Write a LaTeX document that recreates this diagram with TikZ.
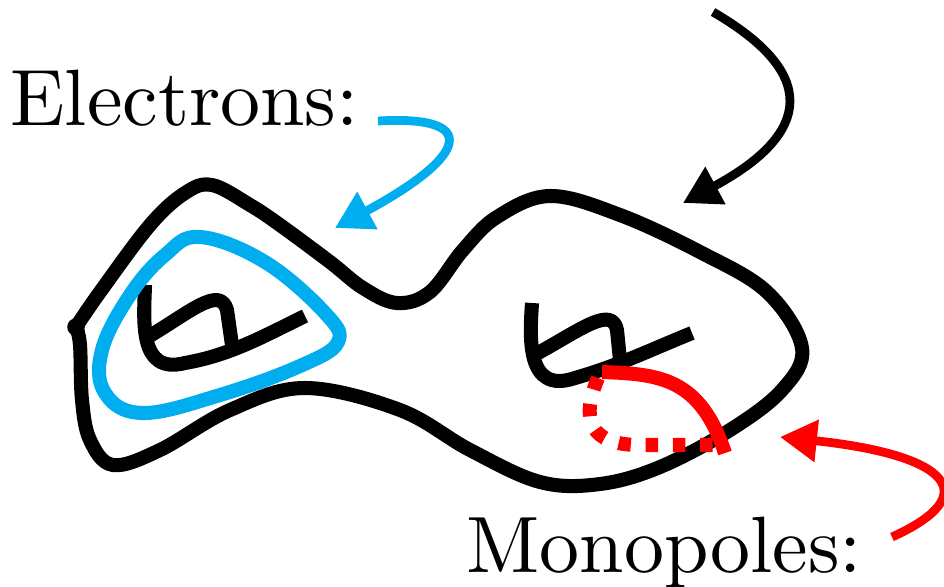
\documentclass[tikz,border=0pt]{standalone}
\usepackage{fontspec}
\usepackage{tikz}
\usetikzlibrary{arrows.meta, positioning, calc}
\newfontfamily\lblfont{lmroman10-regular}[Extension=.otf]
\definecolor{elecc}{RGB}{0,174,239}
\definecolor{monoc}{RGB}{255,0,0}
\tikzset{
  surf/.style={line width=8pt, line join=round, line cap=round},
  hole/.style={line width=8pt, line join=round},
  ptr/.style={line width=5pt, -{Triangle[length=21pt, width=23pt]}},
  lbl/.style={anchor=base west, inner sep=0pt, font=\lblfont\fontsize{45.5}{54}\selectfont},
}

\begin{document}
\begin{tikzpicture}[x={(0.02cm,0)}, y={(0,-0.02cm)}]
  \useasboundingbox (0,0) rectangle (944,586);
  % genus-two surface
  \draw[surf] plot[smooth, tension=0.6] coordinates {(76,327) (100,292) (150,225)
    (185,193) (212,185) (250,205) (280,225) (330,262) (363,288) (397,303) (430,292)
    (463,250) (497,217) (550,196) (620,215) (700,252) (767,292) (802,348) (782,390)
    (730,430) (660,467) (600,484) (540,482) (470,450) (400,410) (305,388) (230,410)
    (160,450) (113,465) (90,440) (82,400) (80,345) (76,327)};
  \fill (76,327) circle[radius=5pt];
  % handles
  \draw[hole] (145,285) .. controls (144,320) and (138,375) .. (185,363)
    .. controls (230,355) and (260,338) .. (305,316);
  \draw[hole] (148,337) .. controls (190,312) and (220,285) .. (227,310) -- (232,345);
  \draw[hole] (532,303) .. controls (530,335) and (525,395) .. (575,378)
    .. controls (620,365) and (650,350) .. (692,333);
  \draw[hole] (538,353) .. controls (580,330) and (612,305) .. (617,330) -- (620,360);
  % electron loop
  \draw[surf, elecc] plot[smooth cycle, tension=0.65] coordinates {(200,237) (265,262)
    (325,313) (338,342) (300,366) (220,395) (143,413) (105,393) (102,350) (130,295)
    (165,255)};
  % monopole path
  \draw[line width=8pt, monoc] (602,372) .. controls (660,374) and (700,378) .. (725,453);
  \draw[line width=8pt, monoc, dash pattern=on 7pt off 8.5pt] (598,378)
    .. controls (580,420) and (590,445) .. (640,445) -- (718,445);
  % labels and pointers
  \node[lbl] (electrons) at (10,125) {Electrons:};
  \node[lbl] (monopoles) at (466,572) {Monopoles:};
  \coordinate (etail) at (378,121);
  \coordinate (ehead) at (335,228);
  \coordinate (stail) at (713,12);
  \coordinate (shead) at (683,203);
  \coordinate (mtail) at (892,537);
  \coordinate (mhead) at (780,437);
  \draw[ptr, elecc] (etail) .. controls (480,115) and (470,155) .. (ehead);
  \draw[ptr] (stail) .. controls (830,80) and (800,140) .. (shead);
  \draw[ptr, monoc] (mtail) .. controls (985,495) and (950,455) .. (mhead);
\end{tikzpicture}
\end{document}
